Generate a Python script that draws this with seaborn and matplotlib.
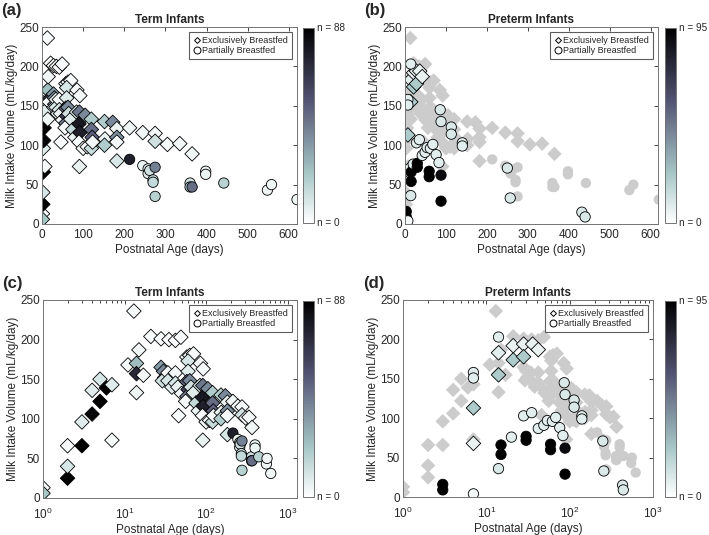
import numpy as np
import pandas as pd
import matplotlib
matplotlib.use("Agg")
import matplotlib.pyplot as plt
import seaborn as sns
from matplotlib.lines import Line2D
from matplotlib.cm import ScalarMappable
from matplotlib.colors import Normalize

# Term infants, exclusively breastfed (diamonds)
term_ex_age = [1, 1, 2, 2, 2, 3, 3, 4, 4, 5, 5, 6, 7, 7, 11, 13, 14, 14, 14, 15, 17,
               21, 28, 35, 42, 49,
               28, 30, 31, 29, 34, 34, 38, 42, 42, 45, 50, 46,
               58, 63, 70, 60, 60, 58, 60, 58, 56, 63, 65, 70, 75, 80, 84, 85, 92,
               91, 90, 92, 90, 91, 100, 105, 110, 120, 120, 122, 120, 123,
               152, 153, 152, 172, 182, 182, 182, 182, 213, 245, 275, 275, 305, 335, 365]
term_ex_vol = [13, 6, 25, 40, 66, 66, 96, 106, 136, 122, 150, 139, 143, 73, 168, 236, 170, 157, 133, 187, 155,
               204, 201, 200, 199, 203,
               165, 160, 152, 148, 158, 148, 140, 158, 145, 140, 132, 104,
               178, 180, 182, 173, 160, 147, 137, 128, 122, 148, 140, 133, 120, 110, 142, 170, 163,
               142, 127, 116, 104, 73, 96, 138, 98, 133, 120, 110, 96, 104,
               130, 108, 100, 129, 121, 110, 104, 80, 122, 116, 115, 105, 101, 102, 89]
term_ex_n = [2, 22, 88, 10, 2, 88, 8, 85, 8, 88, 10, 88, 8, 2, 3, 2, 25, 72, 4, 4, 3,
             2, 2, 2, 2, 2,
             35, 40, 45, 12, 3, 10, 8, 3, 10, 6, 3, 2,
             3, 3, 2, 10, 8, 50, 62, 45, 3, 40, 12, 8, 15, 5, 10, 3, 3,
             45, 78, 75, 2, 6, 3, 40, 3, 20, 48, 52, 14, 3,
             20, 5, 20, 40, 5, 38, 3, 10, 4, 4, 3, 12, 3, 3, 4]

# Term infants, partially breastfed (circles)
term_pa_age = [213, 245, 258, 258, 262, 270, 270, 275, 275, 360, 360, 365, 398, 398, 442, 548, 558, 620]
term_pa_vol = [82, 74, 70, 64, 68, 56, 53, 72, 35, 52, 47, 47, 67, 63, 52, 43, 50, 31]
term_pa_n = [75, 5, 8, 8, 12, 15, 15, 42, 18, 12, 20, 48, 5, 5, 18, 4, 4, 4]

# Preterm infants, exclusively breastfed
pre_ex_age = [7, 7, 14, 14, 21, 21, 28, 28, 36, 42]
pre_ex_vol = [113, 68, 183, 155, 192, 174, 194, 178, 194, 187]
pre_ex_n = [22, 6, 8, 22, 6, 22, 6, 22, 6, 6]

# Preterm infants, partially breastfed
pre_pa_age = [3, 3, 7, 7, 7, 14, 14, 15, 15, 20, 28, 30, 30, 35, 42, 49, 54, 62, 68, 76, 83,
              59, 59, 88, 88, 86, 88, 113, 113, 140, 140, 250, 257, 432, 440]
pre_pa_vol = [16, 9, 4, 158, 151, 203, 36, 66, 54, 76, 103, 77, 72, 107, 87, 91, 97, 96, 101, 88, 78,
              67, 60, 62, 29, 145, 130, 123, 114, 103, 99, 71, 33, 15, 9]
pre_pa_n = [95, 95, 3, 8, 8, 8, 10, 95, 95, 8, 8, 95, 95, 8, 8, 8, 8, 8, 8, 8, 8,
            95, 95, 90, 95, 10, 10, 10, 10, 8, 8, 10, 10, 10, 10]

term_max = 88
pre_max = 95

term_ex = pd.DataFrame({"age": term_ex_age, "vol": term_ex_vol, "n": term_ex_n})
term_pa = pd.DataFrame({"age": term_pa_age, "vol": term_pa_vol, "n": term_pa_n})
pre_ex = pd.DataFrame({"age": pre_ex_age, "vol": pre_ex_vol, "n": pre_ex_n})
pre_pa = pd.DataFrame({"age": pre_pa_age, "vol": pre_pa_vol, "n": pre_pa_n})

sns.set_style("white")
plt.rcParams["font.family"] = ["Liberation Sans", "DejaVu Sans"]
plt.rcParams["xtick.direction"] = "in"
plt.rcParams["ytick.direction"] = "in"

W, H = 709, 535
fig = plt.figure(figsize=(W / 100, H / 100), dpi=100)


def box(l, r, t, b):
    return [l / W, (H - b) / H, (r - l) / W, (b - t) / H]


cmap = "bone_r"
S = 55


def draw(ax, ex, pa, nmax, grey=None):
    # term data in grey behind the preterm panels
    if grey is not None:
        sns.scatterplot(data=grey[0], x="age", y="vol", marker="D", s=S, color="0.8",
                        edgecolor="none", linewidth=0, legend=False, ax=ax)
        sns.scatterplot(data=grey[1], x="age", y="vol", marker="o", s=S, color="0.8",
                        edgecolor="none", linewidth=0, legend=False, ax=ax)
    sns.scatterplot(data=ex, x="age", y="vol", hue="n", palette=cmap, hue_norm=(0, nmax),
                    marker="D", s=S, edgecolor="black", linewidth=0.6, legend=False, ax=ax)
    sns.scatterplot(data=pa, x="age", y="vol", hue="n", palette=cmap, hue_norm=(0, nmax),
                    marker="o", s=S, edgecolor="black", linewidth=0.6, legend=False, ax=ax)


def style(ax, title, label, xmax):
    ax.set_ylim(0, 250)
    ax.set_yticks([0, 50, 100, 150, 200, 250])
    if xmax > 620:
        ax.set_xscale("log")
        ax.set_xlim(1, xmax)
        ax.set_xticks([1, 10, 100, 1000])
        ax.tick_params(axis="x", pad=6)
    else:
        ax.set_xlim(0, xmax)
        ax.set_xticks([0, 100, 200, 300, 400, 500, 600])
    ax.set_title(title, fontsize=8.5, fontweight="bold", pad=3)
    ax.set_xlabel("Postnatal Age (days)", fontsize=8.5, color="0.15", labelpad=2)
    ax.set_ylabel("Milk Intake Volume (mL/kg/day)", fontsize=8.5, color="0.15", labelpad=1)
    ax.tick_params(which="both", top=True, right=True, labelsize=8.5, colors="0.15",
                   length=3, width=0.6)
    ax.tick_params(axis="y", pad=2)
    ax.tick_params(which="minor", length=1.8)
    for sp in ax.spines.values():
        sp.set_color("0.45")
        sp.set_linewidth(0.7)
    handles = [Line2D([], [], marker="D", ls="none", mfc="white", mec="black", ms=3, mew=0.7,
                      label="Exclusively Breastfed"),
               Line2D([], [], marker="o", ls="none", mfc="white", mec="black", ms=5, mew=0.7,
                      label="Partially Breastfed")]
    leg = ax.legend(handles=handles, loc="upper right", fontsize=6.5, frameon=True, fancybox=False,
                    edgecolor="0.2", borderpad=0.4, handletextpad=0.2, handlelength=0.8,
                    labelspacing=0.15, borderaxespad=0.6)
    leg.get_frame().set_linewidth(0.8)
    ax.text(-0.16, 1.12, label, transform=ax.transAxes, fontsize=12, fontweight="bold",
            ha="left", va="top")


def cbar(cax, nmax):
    cb = fig.colorbar(ScalarMappable(norm=Normalize(0, nmax), cmap=cmap), cax=cax)
    cb.set_ticks(np.linspace(0, nmax, 6)[1:-1])
    cb.ax.tick_params(direction="in", length=2, width=0.5, labelright=False, colors="0.3")
    cb.outline.set_edgecolor("0.45")
    cb.outline.set_linewidth(0.7)
    cax.text(1.25, 1.0, "n = %d" % nmax, transform=cax.transAxes, fontsize=7.2, va="center",
             ha="left", color="0.15")
    cax.text(1.25, 0.0, "n = 0", transform=cax.transAxes, fontsize=7.2, va="center",
             ha="left", color="0.15")


ax_a = fig.add_axes(box(42, 297, 27, 224))
ax_b = fig.add_axes(box(405, 658, 27, 224))
ax_c = fig.add_axes(box(43, 297, 300, 498))
ax_d = fig.add_axes(box(403, 653, 300, 497))

draw(ax_a, term_ex, term_pa, term_max)
draw(ax_b, pre_ex, pre_pa, pre_max, grey=(term_ex, term_pa))
draw(ax_c, term_ex, term_pa, term_max)
draw(ax_d, pre_ex, pre_pa, pre_max, grey=(term_ex, term_pa))

style(ax_a, "Term Infants", "(a)", 620)
style(ax_b, "Preterm Infants", "(b)", 618)
style(ax_c, "Term Infants", "(c)", 1300)
style(ax_d, "Preterm Infants", "(d)", 1000)

cbar(fig.add_axes(box(303, 314, 28, 223)), term_max)
cbar(fig.add_axes(box(665, 676, 28, 223)), pre_max)
cbar(fig.add_axes(box(303, 314, 301, 497)), term_max)
cbar(fig.add_axes(box(665, 676, 301, 497)), pre_max)

fig.savefig("out.png", dpi=100)
